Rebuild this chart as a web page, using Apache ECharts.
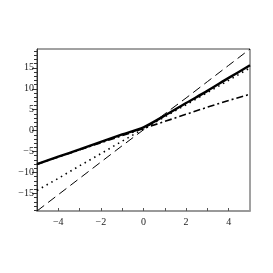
<!DOCTYPE html>
<html><head><meta charset="utf-8">
<script src="https://cdn.jsdelivr.net/npm/echarts@6/dist/echarts.min.js"></script>
<style>html,body{margin:0;padding:0;background:#fff}#c{width:273px;height:273px}</style>
</head><body><div id="c"></div>
<script>
var xs = [-5,-4,-3,-2,-1,0,1,2,3,4,5];
var dashed  = [-19.2,-15.3,-11.4,-7.5,-3.6,0.2,4.0,7.8,11.7,15.6,19.5];
var dotted  = [-14.3,-11.4,-8.4,-5.5,-2.5,0.4,3.3,6.2,9.1,12.0,15.0];
var dashdot = [-8.0,-6.3,-4.6,-2.9,-1.2,0.5,2.2,3.9,5.6,7.2,8.7];
var solid   = [-8.0,-6.2,-4.5,-2.7,-0.9,0.8,3.6,6.6,9.5,12.6,15.6];
var xLabels = [-4,-2,0,2,4];
var xTicks = [-4,-3,-2,-1,0,1,2,3,4];
var yLabels = [-15,-10,-5,0,5,10,15];
var yMinor = [];
for (var v = -19; v <= 19; v++) yMinor.push(v);
var yMin = -19.2, yMax = 19.5;

function pts(ys){ return xs.map(function(x,i){ return [x, ys[i]]; }); }
function fmt(v){ return v < 0 ? '\u2212' + Math.abs(v) : String(v); }

var chart = echarts.init(document.getElementById('c'));
var lab = {fontFamily:'Liberation Serif', fontSize:10, color:'#222'};
chart.setOption({
  animation:false,
  grid:{left:37,right:23,top:49,bottom:62,show:true,borderColor:'#444',borderWidth:1,backgroundColor:'transparent'},
  xAxis:{type:'value',min:-5,max:5,
    axisLine:{show:true,onZero:false,lineStyle:{color:'#999',width:2}},
    axisTick:{show:true,inside:true,length:3,customValues:xTicks,lineStyle:{color:'#555'}},
    axisLabel:Object.assign({customValues:xLabels,formatter:fmt,margin:6},lab),
    splitLine:{show:false}},
  yAxis:[{type:'value',min:yMin,max:yMax,
    axisLine:{show:true,onZero:false,lineStyle:{color:'#333',width:1}},
    axisTick:{show:true,length:5,customValues:yLabels,lineStyle:{color:'#333'}},
    axisLabel:Object.assign({customValues:yLabels,formatter:fmt,margin:3},lab),
    splitLine:{show:false}},
   {type:'value',min:yMin,max:yMax,position:'left',
    axisLine:{show:false,onZero:false},
    axisTick:{show:true,length:3,customValues:yMinor,lineStyle:{color:'#333'}},
    axisLabel:{show:false},splitLine:{show:false}}],
  series:[
    {type:'line',data:pts(dashed),symbol:'none',lineStyle:{color:'#000',width:1,type:[9,5]}},
    {type:'line',data:pts(dotted),symbol:'none',lineStyle:{color:'#000',width:1.6,type:[1.5,4]}},
    {type:'line',data:pts(dashdot),symbol:'none',lineStyle:{color:'#000',width:1.6,type:[7,3,2,3]}},
    {type:'line',data:pts(solid),symbol:'none',smooth:0.3,lineStyle:{color:'#000',width:2.4}}
  ]
});
</script></body></html>
